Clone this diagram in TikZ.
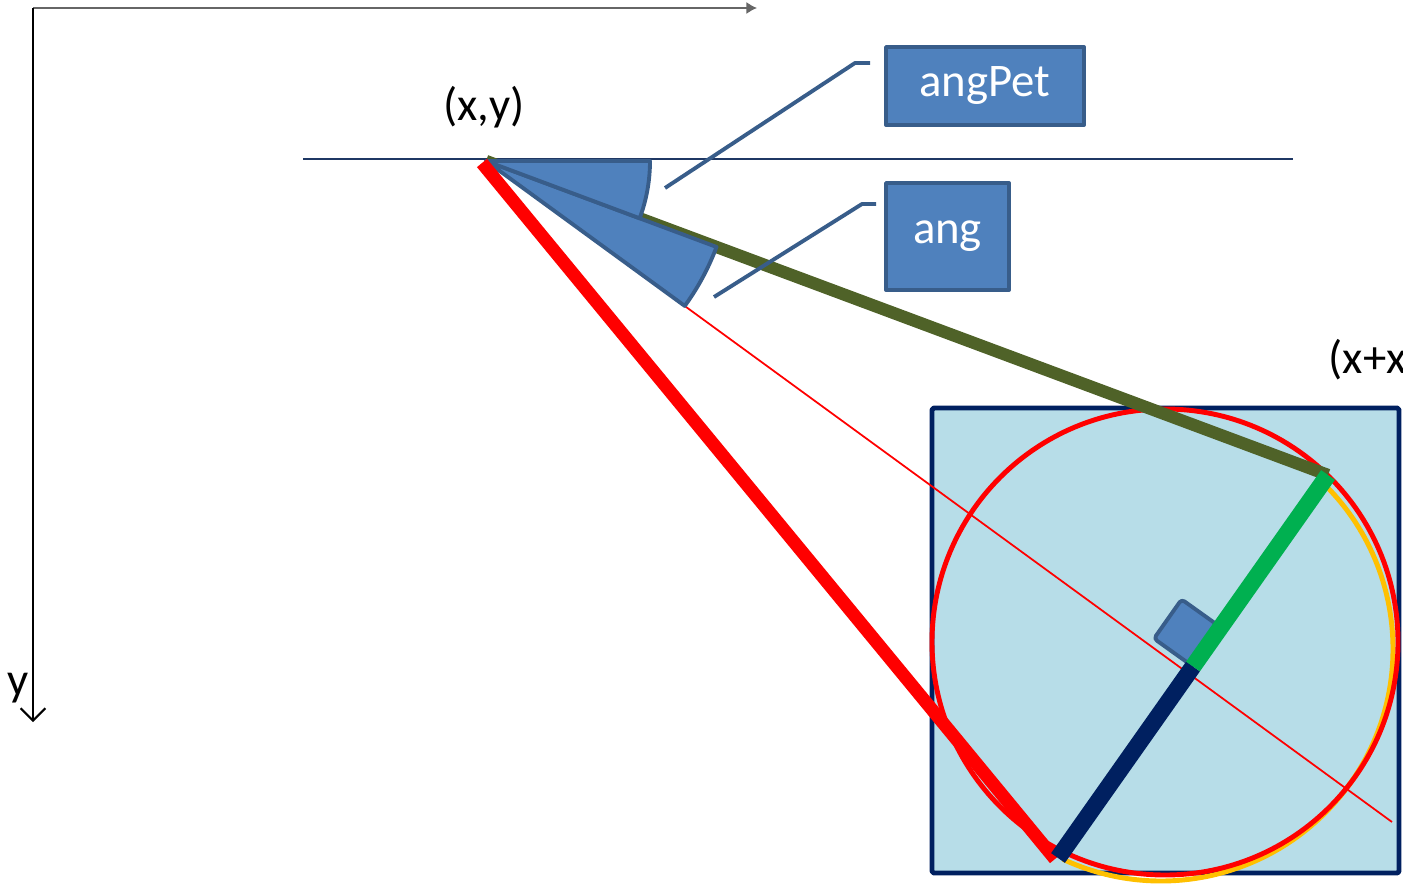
\documentclass[tikz,border=0pt]{standalone}
\usepackage{fontspec}
\setmainfont{Carlito}
\usepackage{xcolor}
\usepackage{tikz}
\usetikzlibrary{arrows.meta,calc,positioning}
\definecolor{petblue}{RGB}{79,129,189}
\definecolor{petedge}{RGB}{56,93,138}
\definecolor{petnavy}{RGB}{0,32,96}
\definecolor{petolive}{RGB}{79,98,40}
\definecolor{petgreen}{RGB}{0,176,80}
\definecolor{petorange}{RGB}{255,192,0}
\definecolor{petsky}{RGB}{183,221,232}
\definecolor{petline}{RGB}{31,56,100}

\begin{document}
\begin{tikzpicture}[>=Stealth, line join=round, font=\fontsize{13.3}{16}\selectfont,
  wedge/.style={fill=petblue, draw=petedge, line width=1.1pt},
  labelbox/.style={fill=petblue, draw=petedge, line width=1.1pt, text=white, inner sep=0pt},
  callout/.style={draw=petedge, line width=1.1pt}]
  \useasboundingbox (0,0) rectangle (14.03,-8.86);

  % Axes
  \coordinate (origin) at (0.33,-0.08);
  \coordinate (xend) at (7.57,-0.08);
  \coordinate (yend) at (0.33,-7.22);
  \draw[black!60, line width=0.8pt, -{Latex[length=3pt,width=3.5pt]}] (origin) -- (xend);
  \draw[black, line width=0.6pt, -{Straight Barb[length=3.5pt,width=7pt]}] (origin) -- (yend);
  \node (ylabel) at (0.18,-6.88) {y};

  % Key points
  \coordinate (P) at (4.86,-1.61);
  \coordinate (A) at (13.28,-4.75);
  \coordinate (B) at (10.58,-8.58);
  \coordinate (J) at ($(B)!0.5!(A)$);
  \coordinate (farend) at (13.92,-8.22);
  \coordinate (redstart) at (4.82,-1.63);
  \coordinate (redend) at (10.55,-8.59);

  % Square with circle
  \draw[fill=petsky, draw=petnavy, line width=1.4pt, rounded corners=0.5pt] (9.32,-4.08) rectangle (13.99,-8.73);
  \draw[petorange, line width=1.4pt] (11.61,-6.49) ++(46:2.32) arc[start angle=46, end angle=-115, radius=2.32];
  \draw[red, line width=1.4pt] (11.65,-6.42) circle[radius=2.33];

  % Horizontal reference line
  \draw[petline, line width=0.7pt] (3.03,-1.59) -- (12.93,-1.59);

  % Rays from (x,y)
  \draw[red, line width=0.5pt] (P) -- (farend);
  \draw[petolive, line width=3.5pt] (P) -- (A);

  % Angle wedges
  \path[wedge] (P) -- ++(-20.45:2.46) arc[start angle=-20.45, end angle=-36.1, radius=2.46] -- cycle;
  \path[wedge] (P) -- ++(0:1.64) arc[start angle=0, end angle=-20.45, radius=1.64] -- cycle;

  \draw[red, line width=3.7pt] (redstart) -- (redend);

  % Right angle marker
  \coordinate (m1) at ($(J)!0.48cm!(P)$);
  \coordinate (m2) at ($(J)!0.48cm!(A)$);
  \path[wedge, rounded corners=1pt] (J) -- (m1) -- ($(m1)+(m2)-(J)$) -- (m2) -- cycle;

  % Diameter
  \draw[petnavy, line width=4.8pt] (B) -- (J);
  \draw[petgreen, line width=4.8pt] (J) -- (A);

  % Boxes and callouts
  \node[labelbox, minimum width=1.98cm, minimum height=0.78cm] (angpet) at (9.85,-0.86) {angPet};
  \node[labelbox, minimum width=1.23cm, minimum height=1.07cm] (angbox) at (9.475,-2.365) {ang};
  \coordinate (c1a) at (6.65,-1.88);
  \coordinate (c1b) at (8.55,-0.63);
  \coordinate (c2a) at (7.14,-2.97);
  \coordinate (c2b) at (8.62,-2.04);
  \draw[callout, shorten >=0.14cm] (c1a) -- (c1b) -- (angpet.west |- c1b);
  \draw[callout, shorten >=0.08cm] (c2a) -- (c2b) -- (angbox.west |- c2b);

  % Labels
  \node (xy) at (4.84,-1.07) {(x,y)};
  \node[anchor=west, inner sep=0pt] (xx) at (13.28,-3.60) {(x+x};

\end{tikzpicture}
\end{document}
